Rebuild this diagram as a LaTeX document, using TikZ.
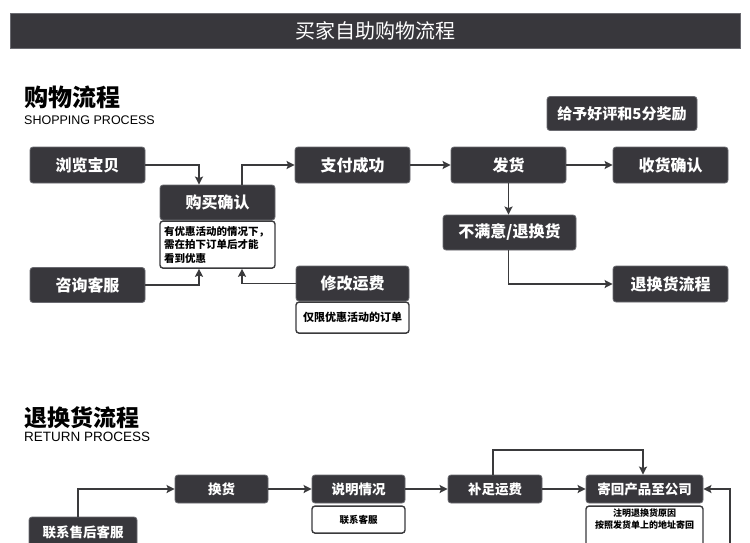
\documentclass[tikz,border=0pt]{standalone}
\usepackage{fontspec}
\setmainfont{Noto Sans CJK SC}
\newfontfamily\latinsf{Liberation Sans}
\usetikzlibrary{arrows.meta, positioning}
\definecolor{boxgray}{HTML}{38373C}
\definecolor{rimgray}{HTML}{6A6A70}
\definecolor{linegray}{HTML}{3A3A3C}

\begin{document}
\begin{tikzpicture}[x=1pt, y=-1pt,
  stagebox/.style={draw=rimgray, line width=0.8pt, fill=boxgray, rounded corners=3pt,
                   text=white, inner sep=0pt, minimum width=115pt, minimum height=36pt,
                   font=\bfseries\fontsize{16}{19}\selectfont},
  smallbox/.style={stagebox, minimum width=93pt, minimum height=28pt,
                   font=\bfseries\fontsize{13.5}{16}\selectfont},
  notebox/.style={draw=linegray, line width=1.4pt, fill=white, rounded corners=3pt,
                  text=black, inner sep=0pt, minimum width=115pt,
                  font=\bfseries\fontsize{10.5}{13.5}\selectfont},
  heading/.style={anchor=west, inner sep=0pt, font=\bfseries\fontsize{24}{26}\selectfont},
  subhead/.style={anchor=west, inner sep=0pt, font=\latinsf\fontsize{12.5}{14}\selectfont},
  arr/.style={-{Stealth[length=8pt, width=8pt, inset=1.5pt]}, line width=1.9pt, draw=linegray}
]
\fill[white] (0,0) rectangle (750,543);
\useasboundingbox (0,0) rectangle (750,543);

% title bar
\node[fill=boxgray, draw=rimgray, minimum width=730pt, minimum height=35pt, inner sep=0pt,
      text=white, font=\fontsize{20}{22}\selectfont] (title) at (375,30.5) {买家自助购物流程};

% shopping process
\node[heading] (shophead) at (24,97) {购物流程};
\node[subhead] (shopsub) at (24,120.5) {SHOPPING PROCESS};
\node[stagebox, minimum width=150pt, minimum height=34pt,
      font=\bfseries\fontsize{15}{18}\selectfont] (reward) at (622,113.5) {给予好评和5分奖励};

\node[stagebox] (browse)  at (87.5,165)   {浏览宝贝};
\node[stagebox] (pay)     at (352.5,165)  {支付成功};
\node[stagebox] (ship)    at (508.5,165)  {发货};
\node[stagebox] (recv)    at (670.5,165)  {收货确认};
\node[stagebox, minimum height=35pt] (buy) at (217.5,202.5) {购买确认};
\node[notebox, below=0pt of buy, minimum height=47pt, text width=107pt, align=left]
      (buynote) {有优惠活动的情况下，\\需在拍下订单后才能\\看到优惠};
\node[stagebox, minimum height=35pt] (consult) at (87.5,285)   {咨询客服};
\node[stagebox, minimum height=35pt, minimum width=113pt] (fee) at (352.5,283.5) {修改运费};
\node[notebox, below=0pt of fee, minimum width=113pt, minimum height=31pt,
      font=\bfseries\fontsize{11}{13}\selectfont] (feenote) {仅限优惠活动的订单};
\node[stagebox, minimum width=133pt, minimum height=35pt] (unsat) at (509.5,232.5) {不满意/退换货};
\node[stagebox] (retflow) at (670.5,284)  {退换货流程};

\draw[arr] (browse.east) -| ([xshift=-18.5pt]buy.north);
\draw[arr] (consult.east) -| ([xshift=-18.5pt]buynote.south);
\draw[arr] ([xshift=24.5pt]buy.north) |- (pay.west);
\draw[arr] (fee.west) -| ([xshift=24.5pt]buynote.south);
\draw[arr] (pay) -- (ship);
\draw[arr] (ship) -- (recv);
\draw[arr] (ship.south) -- (ship.south |- unsat.north);
\draw[arr] ([xshift=-1pt]unsat.south) |- (retflow.west);

% return process
\node[heading, font=\bfseries\fontsize{23}{25}\selectfont] (rethead) at (24,417.5) {退换货流程};
\node[subhead, font=\latinsf\fontsize{13.5}{15}\selectfont] (retsub) at (24,437) {RETURN PROCESS};

\node[smallbox] (exchange) at (221.5,489) {换货};
\node[smallbox] (explain)  at (358.5,489) {说明情况};
\node[notebox, below=2pt of explain, minimum width=93pt, minimum height=27pt,
      font=\bfseries\fontsize{9.5}{11}\selectfont] (explnote) {联系客服};
\node[smallbox, minimum width=94pt] (topup) at (495,489) {补足运费};
\node[smallbox, minimum width=117pt] (sendback) at (644.5,489) {寄回产品至公司};
\node[notebox, below=2pt of sendback, minimum width=117pt, minimum height=50pt,
      align=center, text depth=24pt, font=\bfseries\fontsize{9}{12}\selectfont]
      (sendnote) {注明退换货原因\\按照发货单上的地址寄回};
\node[smallbox, minimum width=108pt, minimum height=30pt] (contact) at (83,532) {联系售后客服};
\coordinate (retin) at (730,560);

\draw[arr] ([xshift=-5pt]contact.north) |- (exchange.west);
\draw[arr] (exchange) -- (explain);
\draw[arr] (explain) -- (topup);
\draw[arr] (topup) -- (sendback);
\draw[arr] ([xshift=-2pt]topup.north) -- ++(0,-25) -| ([xshift=-1.5pt]sendback.north);
\draw[arr] (retin) |- (sendback.east);
\end{tikzpicture}
\end{document}
